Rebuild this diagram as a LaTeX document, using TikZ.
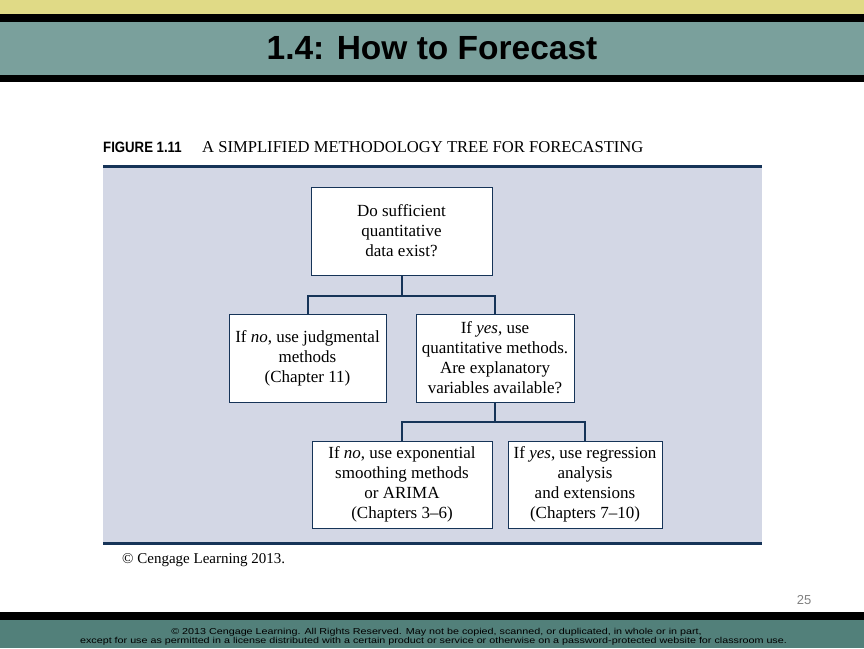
\documentclass[tikz,border=0pt]{standalone}
\usepackage{fontspec}
\setmainfont{Liberation Serif}
\setsansfont{Liberation Sans}

\definecolor{bandyellow}{RGB}{224,218,134}
\definecolor{bandteal}{RGB}{122,160,156}
\definecolor{footteal}{RGB}{82,128,122}
\definecolor{panelblue}{RGB}{211,215,229}
\definecolor{navy}{RGB}{22,52,88}

\tikzset{
  box/.style={draw=navy, line width=0.8pt, fill=white, align=center,
    inner sep=0pt, font=\fontsize{17}{20}\selectfont},
  link/.style={draw=navy, line width=2pt},
  footline/.style={font=\sffamily\fontsize{8.6}{9}\selectfont, inner sep=0pt}
}

\begin{document}
\begin{tikzpicture}[x=1pt, y=-1pt]
    \useasboundingbox (0,0) rectangle (864,648);

    % Slide header bands
    \fill[bandyellow] (0,0) rectangle (864,14);
    \fill[black] (0,14) rectangle (864,22);
    \fill[bandteal] (0,22) rectangle (864,75);
    \fill[black] (0,75) rectangle (864,82);
    \node[font=\sffamily\bfseries\fontsize{33.5}{36}\selectfont] at (432,48) (title) {1.4: How to Forecast};

    % Figure caption and panel
    \node[anchor=west, font=\sffamily\bfseries\fontsize{15}{18}\selectfont, inner sep=0pt]
      at (103,147) (fignum) {\scalebox{0.88}[1]{FIGURE 1.11}};
    \node[anchor=west, font=\fontsize{16.6}{18}\selectfont, inner sep=0pt]
      at (202,147) (figtitle) {A SIMPLIFIED METHODOLOGY TREE FOR FORECASTING};
    \fill[panelblue] (103,167) rectangle (762,542);
    \draw[navy, line width=3pt] (103,166) -- (762,166);
    \draw[navy, line width=3pt] (103,543) -- (762,543);
    \node[anchor=west, font=\fontsize{15}{16}\selectfont, inner sep=0pt]
      at (122,560) (credit) {© Cengage Learning 2013.};

    % Tree boxes
    \node[box, minimum width=181pt, minimum height=88pt] at (401.5,231) (q1)
      {Do sufficient\\quantitative\\data exist?};
    \node[box, minimum width=157pt, minimum height=88pt] at (307.5,358) (no1)
      {If \textit{no}, use judgmental\\methods\\(Chapter 11)};
    \node[box, minimum width=158pt, minimum height=88pt] at (495,358) (yes1)
      {If \textit{yes}, use\\quantitative methods.\\Are explanatory\\variables available?};
    \node[box, minimum width=180pt, minimum height=87pt] at (402,484.5) (no2)
      {If \textit{no}, use exponential\\smoothing methods\\or ARIMA\\(Chapters 3--6)};
    \node[box, minimum width=154pt, minimum height=87pt] at (585,484.5) (yes2)
      {If \textit{yes}, use regression\\analysis\\and extensions\\(Chapters 7--10)};

    % Split points
    \coordinate (j1) at (401.5,296);
    \coordinate (j2) at (495,422);

    % Connectors
    \draw[link] (q1.south) -- (j1);
    \draw[link] (no1.north) |- (j1) -| (yes1.north);
    \draw[link] (yes1.south) -- (j2);
    \draw[link] (no2.north) |- (j2) -| (yes2.north);

    % Slide number and footer
    \node[font=\sffamily\fontsize{13}{14}\selectfont, text=gray] at (804,600) (pagenum) {25};
    \fill[black] (0,612) rectangle (864,620);
    \fill[footteal] (0,620) rectangle (864,648);
    \node[footline] at (436.5,632) (foot1)
      {\scalebox{1.25}[1]{© 2013 Cengage Learning. All Rights Reserved. May not be copied, scanned, or duplicated, in whole or in part,}};
    \node[footline] at (433.5,641.5) (foot2)
      {\scalebox{1.25}[1]{except for use as permitted in a license distributed with a certain product or service or otherwise on a password-protected website for classroom use.}};
\end{tikzpicture}
\end{document}
